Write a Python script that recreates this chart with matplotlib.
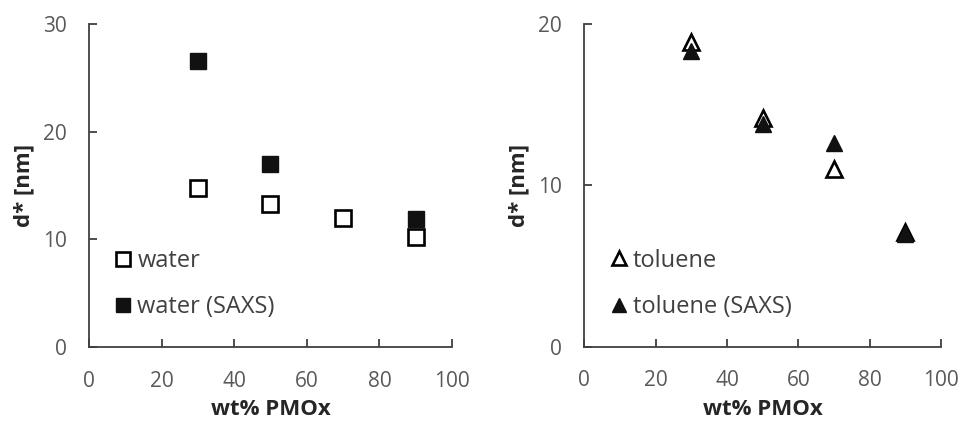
import matplotlib
matplotlib.use("Agg")
import matplotlib.pyplot as plt

# wt% PMOx values and d* [nm]
wt_water = [30, 50, 70, 90]
d_water = [14.8, 13.25, 11.95, 10.25]
wt_water_saxs = [30, 50, 90]
d_water_saxs = [26.6, 16.97, 11.86]

wt_tol = [30, 50, 70, 90]
d_tol = [18.9, 14.2, 11.0, 7.1]
wt_tol_saxs = [30, 50, 70, 90]
d_tol_saxs = [18.35, 13.8, 12.6, 7.0]

xticks = [0, 20, 40, 60, 80, 100]

plt.rcParams["font.family"] = ["Open Sans", "DejaVu Sans"]

text_gray = "#595959"
axis_col = "#404040"

fig = plt.figure(figsize=(9.59, 4.23), dpi=100)
ax1 = fig.add_axes([0.0928, 0.1797, 0.3785, 0.7636])
ax2 = fig.add_axes([0.6093, 0.1805, 0.3720, 0.7627])


def style(ax, ymax, ystep):
    ax.set_xlim(0, 100)
    ax.set_ylim(0, ymax)
    ax.set_xticks(xticks)
    ax.set_yticks(range(0, ymax + 1, ystep))
    for s in ["top", "right"]:
        ax.spines[s].set_visible(False)
    for s in ["left", "bottom"]:
        ax.spines[s].set_color(axis_col)
        ax.spines[s].set_linewidth(1.3)
    ax.tick_params(direction="in", length=6, width=1.3, color=axis_col,
                   labelsize=15, labelcolor=text_gray, pad=17)
    ax.tick_params(axis="y", pad=16)
    ax.set_xlabel("wt% PMOx", fontsize=16, fontweight="bold", color="#262626")
    ax.xaxis.set_label_coords(0.5, -0.195)
    ax.xaxis.label.set_va("center")
    ax.set_ylabel("d* [nm]", fontsize=16, fontweight="bold", color="#262626", labelpad=6)


ms = 12
ax1.plot(wt_water, d_water, "s", ms=ms, mfc="white", mec="black", mew=1.9,
         ls="none", label="water")
ax1.plot(wt_water_saxs, d_water_saxs, "s", ms=ms, mfc="#111111", mec="#111111",
         ls="none", label="water (SAXS)")
style(ax1, 30, 10)

ax2.plot(wt_tol, d_tol, "^", ms=ms, mfc="white", mec="black", mew=1.9,
         ls="none", label="toluene")
ax2.plot(wt_tol_saxs, d_tol_saxs, "^", ms=ms, mfc="#111111", mec="#111111",
         ls="none", label="toluene (SAXS)")
style(ax2, 20, 10)

for ax in (ax1, ax2):
    ax.legend(loc="lower left", bbox_to_anchor=(0.0, 0.02), frameon=False,
              fontsize=17, handletextpad=0.05, labelspacing=0.95,
              handlelength=1.1, markerscale=0.85, labelcolor="#404040")

fig.savefig("out.png", dpi=100)
